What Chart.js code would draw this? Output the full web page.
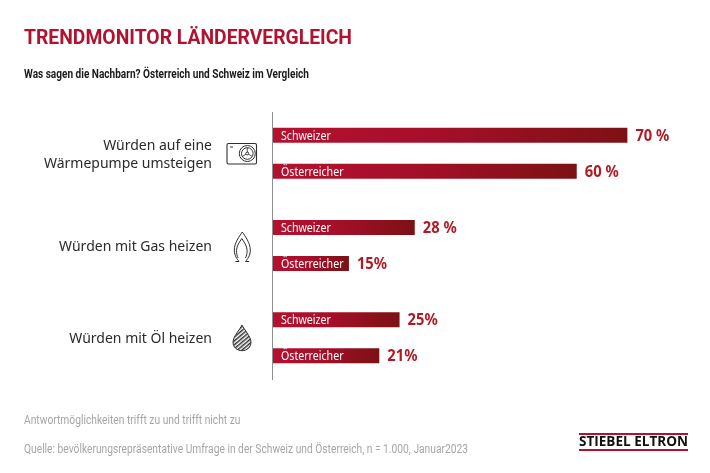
<!DOCTYPE html>
<html><head><meta charset="utf-8">
<style>
html,body{margin:0;padding:0;background:#fff;width:710px;height:473px;overflow:hidden}
#wrap{position:absolute;left:0;top:0;width:710px;height:473px}
canvas{position:absolute;left:0;top:0}
.t{position:absolute;white-space:nowrap;transform-origin:0 0;line-height:1}
svg{position:absolute;left:0;top:0;width:710px;height:473px;overflow:visible}
</style></head><body>
<div id="wrap"><canvas id="c" width="710" height="473"></canvas>
<div class="t" data-w="328" style="left:24px;top:25px;font:bold 21px Roboto;color:#b2122f">TRENDMONITOR LÄNDERVERGLEICH</div>
<div class="t" data-w="285" style="left:24px;top:66px;font:bold 12.5px Roboto;color:#1a1a1a">Was sagen die Nachbarn? Österreich und Schweiz im Vergleich</div>
<div class="t" data-w="216.5" style="left:24px;top:411.5px;font:12.5px Roboto;color:#a6a6a6">Antwortmöglichkeiten trifft zu und trifft nicht zu</div>
<div class="t" data-w="444" style="left:24px;top:440.5px;font:12.5px Roboto;color:#a6a6a6">Quelle: bevölkerungsrepräsentative Umfrage in der Schweiz und Österreich, n = 1.000, Januar2023</div>
<div style="position:absolute;left:578.5px;top:433px;width:109px;height:1.5px;background:#b2122f"></div>
<div style="position:absolute;left:578.5px;top:449px;width:109px;height:1.5px;background:#b2122f"></div>
<div class="t" data-w="109" style="left:578.5px;top:433.5px;font:bold 14.5px/1 'Open Sans';color:#111">STIEBEL ELTRON</div>
<svg viewBox="0 0 710 473" fill="none" stroke="#2e2e2e" stroke-width="1">
  <rect x="227" y="143.5" width="29.5" height="20.5" rx="1.5" stroke-width="1.1"/>
  <line x1="230" y1="147" x2="233" y2="147"/>
  <circle cx="247.3" cy="153.5" r="8"/><circle cx="247.3" cy="153.5" r="5.8"/><circle cx="247.3" cy="153.5" r="1.4"/>
  <path d="M247.3 152.2V147.8M246 154.2L242.4 156.4M248.6 154.2L252.2 156.4" stroke-width=".8"/>
  <path d="M235.5 261.5h3.5c-1.5-2-4.7-5.6-4.7-11.5 0-7 5-13.5 8-18 3 4.5 8 11 8 18 0 5.9-3.2 9.5-4.7 11.5h3.5"/>
  <path d="M238.2 258c-1.2-2-1.7-4.5-1.7-7.5 0-4.6 3.4-9 5.3-12 1.9 3 5.3 7.4 5.3 12 0 3-.5 5.5-1.7 7.5"/>
  <defs><pattern id="h" width="3" height="3" patternUnits="userSpaceOnUse" patternTransform="rotate(-40)"><rect width="3" height="1.5" fill="#333" stroke="none"/></pattern></defs>
  <path d="M242 325c2 4.5 9 11.5 9 17.3 0 4.8-4 8.4-9 8.4s-9-3.6-9-8.4c0-5.8 7-12.8 9-17.3z" fill="url(#h)"/>
</svg>
</div>
<script src="https://cdn.jsdelivr.net/npm/chart.js@4"></script>
<script>
const categories=[["Würden auf eine","Wärmepumpe umsteigen"],"Würden mit Gas heizen","Würden mit Öl heizen"];
const seriesNames=["Schweizer","Österreicher"];
const schweizer=[70,28,25];
const oesterreicher=[60,15,21];
const schweizerLabels=["70 %","28 %","25%"];
const oesterreicherLabels=["60 %","15%","21%"];
document.querySelectorAll('.t').forEach(e=>{
  const w=e.getBoundingClientRect().width;
  e.style.transform='scaleX('+(parseFloat(e.dataset.w)/w)+')';
});
function grad(ctx){
  const c=ctx.chart; if(!c.chartArea) return '#a00f28';
  const v=ctx.raw, x=c.scales.x;
  const g=c.ctx.createLinearGradient(x.getPixelForValue(0),0,x.getPixelForValue(v),0);
  g.addColorStop(0,'#b5112f');g.addColorStop(.45,'#a50f29');g.addColorStop(1,'#7c1115');
  return g;
}
const barText={id:'barText',afterDatasetsDraw(c){
  const k=c.ctx;
  c.data.datasets.forEach((d,i)=>{
    c.getDatasetMeta(i).data.forEach((el,j)=>{
      k.save();k.textBaseline='middle';k.textAlign='left';
      k.save();
      k.translate(c.scales.x.getPixelForValue(0)+8,el.y+1);
      k.scale(.85,1);
      k.fillStyle='#fff';k.font="12.5px 'Noto Sans'";
      k.fillText(d.label,0,0);
      k.restore();
      k.translate(el.x+8,el.y+1);
      k.scale(.92,1);
      k.fillStyle='#b11a24';k.font="bold 16px 'Noto Sans'";
      k.fillText(d.valueLabels[j],0,0);
      k.restore();
    });
  });
  k.save();k.strokeStyle='#8f8f8f';k.lineWidth=1;k.beginPath();k.moveTo(272.5,112);k.lineTo(272.5,380);k.stroke();k.restore();
}};
new Chart(document.getElementById('c'),{
  type:'bar',
  data:{labels:categories,datasets:[
    {label:seriesNames[0],data:schweizer,valueLabels:schweizerLabels,backgroundColor:grad},
    {label:seriesNames[1],data:oesterreicher,valueLabels:oesterreicherLabels,backgroundColor:grad}
  ]},
  options:{
    indexAxis:'y',responsive:false,animation:false,
    layout:{padding:{top:107,bottom:89,right:32,left:0}},
    categoryPercentage:.78,barPercentage:.417,
    plugins:{legend:{display:false},tooltip:{enabled:false},title:{display:false}},
    scales:{
      x:{type:'linear',min:0,max:80,display:false,grid:{display:false}},
      y:{grid:{display:false},border:{display:false},
         ticks:{color:'#2a2a2a',font:{family:"'Noto Sans'",size:14,lineHeight:1.3},padding:53,labelOffset:1.5},
         afterFit(s){s.width=273;}}
    }
  },
  plugins:[barText]
});
</script>
</body></html>
